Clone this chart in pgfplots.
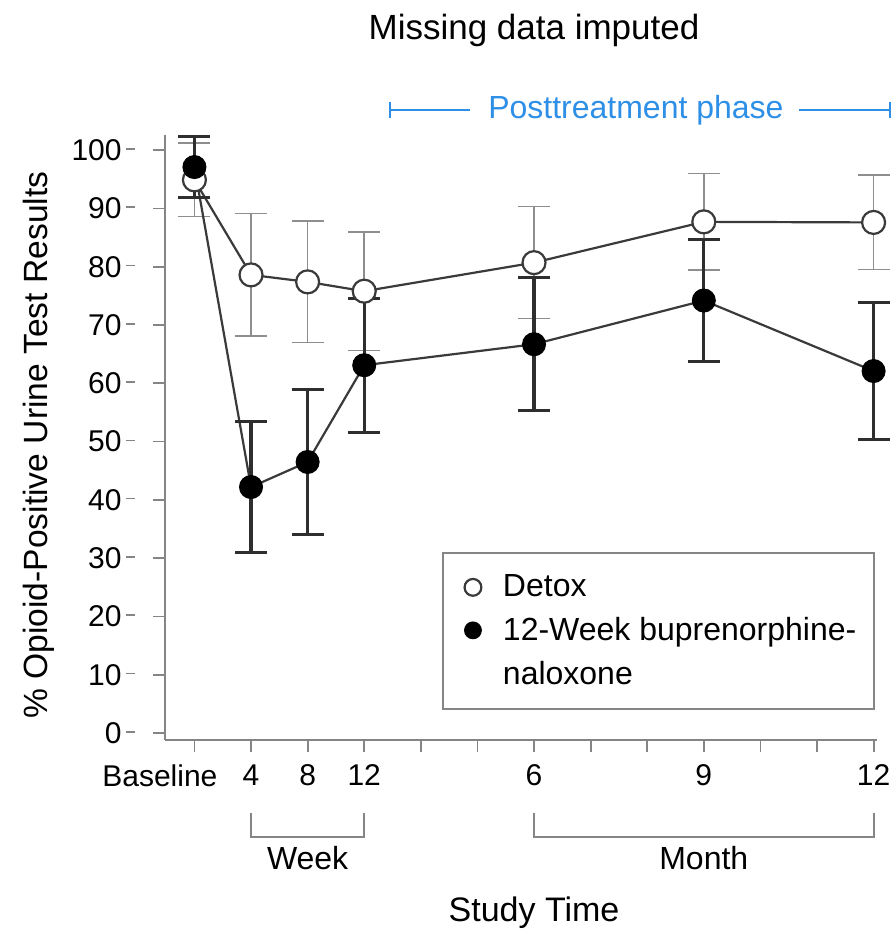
\documentclass[border=0pt]{standalone}
\usepackage{pgfplots}
\pgfplotsset{compat=1.18}
\usepackage{pgfplotstable}
\usepackage{fontspec}
\setmainfont{Liberation Sans}
\definecolor{axgray}{HTML}{858585}
\definecolor{linegray}{HTML}{3A3A3A}
\definecolor{bargray}{HTML}{8E8E8E}
\definecolor{darkbar}{HTML}{2E2E2E}
\definecolor{postblue}{HTML}{2E8FE6}

\pgfplotstableread{
x y e
0 94.9 6.3
1 78.6 10.5
2 77.4 10.4
3 75.8 10.2
6 80.7 9.6
9 87.7 8.3
12 87.6 8.1
}\detox

\pgfplotstableread{
x y e
0 97.1 5.2
1 42.2 11.2
2 46.5 12.5
3 63.1 11.5
6 66.7 11.4
9 74.2 10.5
12 62.1 11.7
}\bup

\begin{document}
\begin{tikzpicture}
\begin{axis}[
  scale only axis, width=356pt, height=302.5pt,
  xmin=-0.52, xmax=12.06, ymin=-1.2, ymax=102.6,
  axis x line*=bottom, axis y line*=left,
  axis line style={draw=axgray, line width=1pt, -},
  xtick={0,...,12},
  xticklabels={\makebox[23pt][r]{Baseline},4,8,12,,,6,,,9,,,12},
  ytick={0,10,...,100},
  tick style={draw=axgray, line width=0.9pt},
  tick align=outside,
  major tick length=6pt,
  font=\fontsize{15}{18}\selectfont,
  /pgf/number format/assume math mode=true,
  yticklabel={\pgfmathprintnumber{\tick}\hspace{2pt}\textcolor{axgray}{\rule[0.36em]{4.5pt}{0.8pt}}},
  yticklabel style={inner sep=0pt, xshift=-9pt},
  xticklabel style={inner sep=0pt, yshift=-6pt},
  clip=false,
  legend cell align=left,
  legend style={at={(rel axis cs:0.389,0.311)}, anchor=north west,
    draw=axgray, line width=1pt, font=\fontsize{16}{20}\selectfont,
    inner xsep=7pt, inner ysep=9pt, column sep=5pt, row sep=4.7pt},
]
\coordinate (O) at (rel axis cs:0,0);

\addplot[draw=linegray, line width=1.1pt, mark=*, mark size=5.75pt,
  mark options={fill=white, draw=linegray, line width=1.1pt},
  legend image code/.code={\path[draw=none] (0pt,0pt) -- (16pt,0pt);
    \draw[mark=*, mark size=4.2pt, fill=white, draw=linegray, line width=1pt] plot coordinates {(8pt,0pt)};},
  error bars/.cd, y dir=both, y explicit,
  error bar style={draw=bargray, line width=0.8pt},
  error mark options={rotate=90, mark size=8pt, draw=bargray, line width=0.8pt}]
  table[x=x, y=y, y error=e] {\detox};
\addlegendentry{Detox}

\addplot[draw=linegray, line width=1.1pt, mark=*, mark size=5.75pt,
  mark options={fill=black, draw=black, line width=0.5pt},
  legend image code/.code={\path[draw=none] (0pt,0pt) -- (16pt,0pt);
    \draw[mark=*, mark size=4.2pt, fill=black, draw=black] plot coordinates {(8pt,0pt)};},
  error bars/.cd, y dir=both, y explicit,
  error bar style={draw=darkbar, line width=1.6pt},
  error mark options={rotate=90, mark size=8pt, draw=darkbar, line width=1.6pt}]
  table[x=x, y=y, y error=e] {\bup};
\addlegendentry{12-Week buprenorphine-}
\addlegendimage{empty legend}
\addlegendentry{naloxone}

% title and annotations
\node[font=\fontsize{17.5}{20}\selectfont] at (axis cs:6,120.5) {Missing data imputed};
\node[rotate=90, font=\fontsize{16.8}{19}\selectfont] at (axis cs:-2.75,49.4) {\% Opioid-Positive Urine Test Results};

\draw[postblue, line width=0.9pt] (axis cs:3.46,106.9) -- (axis cs:4.87,106.9);
\draw[postblue, line width=0.9pt] (axis cs:3.46,105.6) -- (axis cs:3.46,108.2);
\draw[postblue, line width=0.9pt] (axis cs:10.69,106.9) -- (axis cs:12.29,106.9);
\draw[postblue, line width=0.9pt] (axis cs:12.29,105.6) -- (axis cs:12.29,108.2);
\node[postblue, font=\fontsize{16}{19}\selectfont] at (axis cs:7.8,106.9) {Posttreatment phase};

\draw[axgray, line width=1pt] (axis cs:1,-13.7) -- (axis cs:1,-17.8) -- (axis cs:3,-17.8) -- (axis cs:3,-13.7);
\draw[axgray, line width=1pt] (axis cs:6,-13.7) -- (axis cs:6,-17.8) -- (axis cs:12,-17.8) -- (axis cs:12,-13.7);
\node[font=\fontsize{16}{19}\selectfont] at (axis cs:2,-21.4) {Week};
\node[font=\fontsize{16}{19}\selectfont] at (axis cs:9,-21.4) {Month};
\node[font=\fontsize{17}{20}\selectfont] at (axis cs:6,-30.9) {Study Time};
\end{axis}
\pgfresetboundingbox
\path ([shift={(-82.5pt,-97pt)}]O) rectangle ([shift={(365.5pt,370pt)}]O);
\end{tikzpicture}
\end{document}
